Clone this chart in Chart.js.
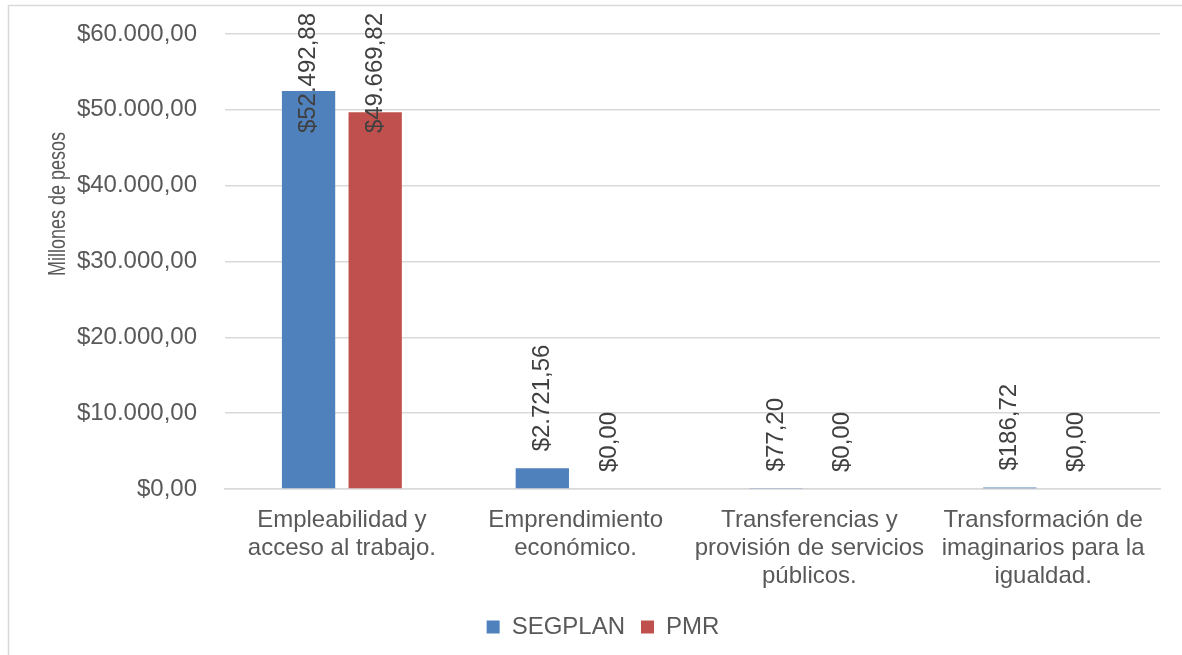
<!DOCTYPE html>
<html>
<head>
<meta charset="utf-8">
<script src="https://cdn.jsdelivr.net/npm/chart.js@4"></script>
<style>
  html, body { margin: 0; padding: 0; background: #fff; }
  #wrap { width: 1182px; height: 655px; position: relative; }
</style>
</head>
<body>
<div id="wrap"><canvas id="barChart"></canvas></div>
<script>
// Data
const categories = [
    ['Empleabilidad y', 'acceso al trabajo.'],
    ['Emprendimiento', 'económico.'],
    ['Transferencias y', 'provisión de servicios', 'públicos.'],
    ['Transformación de', 'imaginarios para la', 'igualdad.']
];
const segplan = [52492.88, 2721.56, 77.20, 186.72];
const pmr = [49669.82, 0, 0, 0];
const yTicks = [0, 10000, 20000, 30000, 40000, 50000, 60000];

const FONT = '"Liberation Sans", Arial, sans-serif';
const GREY = '#595959';

// formato $12.345,67
function money(v) {
    const parts = v.toFixed(2).split('.');
    parts[0] = parts[0].replace(/\B(?=(\d{3})+(?!\d))/g, '.');
    return '$' + parts[0] + ',' + parts[1];
}

// labels + border + y title
const extras = {
    id: 'extras',
    beforeDraw(chart) {
        const ctx = chart.ctx;
        ctx.save();
        ctx.strokeStyle = '#d9d9d9';
        ctx.lineWidth = 1.5;
        ctx.strokeRect(8.5, 5.5, 1300, 800);
        ctx.restore();
    },
    afterDatasetsDraw(chart) {
        const ctx = chart.ctx;
        ctx.save();
        ctx.font = '24px ' + FONT;
        ctx.fillStyle = '#404040';
        ctx.textAlign = 'left';
        ctx.textBaseline = 'middle';
        chart.data.datasets.forEach((ds, i) => {
            chart.getDatasetMeta(i).data.forEach((bar, j) => {
                const txt = money(ds.data[j]);
                const w = ctx.measureText(txt).width;
                // outside end, pushed down when it would leave the chart
                const start = Math.max(bar.y - 17, 13 + w);
                ctx.save();
                ctx.translate(bar.x, start);
                ctx.rotate(-Math.PI / 2);
                ctx.fillText(txt, 0, 0);
                ctx.restore();
            });
        });
        // y title
        ctx.font = '18px ' + FONT;
        ctx.fillStyle = GREY;
        ctx.textAlign = 'center';
        ctx.translate(59, 204);
        ctx.rotate(-Math.PI / 2);
        ctx.scale(1, 1.3);
        ctx.fillText('Millones de pesos', 0, 0);
        ctx.restore();
    }
};

const ctxBar = document.getElementById('barChart').getContext('2d');
const barChart = new Chart(ctxBar, {
    type: 'bar',
    data: {
        labels: categories,
        datasets: [{
            label: 'SEGPLAN',
            data: segplan,
            backgroundColor: '#4f81bd',
            categoryPercentage: 0.57,
            barPercentage: 0.8
        }, {
            label: 'PMR',
            data: pmr,
            backgroundColor: '#c0504d',
            categoryPercentage: 0.57,
            barPercentage: 0.8
        }]
    },
    options: {
        responsive: true,
        maintainAspectRatio: false,
        animation: false,
        layout: { padding: { left: 46, right: 22, top: 34, bottom: 6 } },
        plugins: {
            legend: {
                position: 'bottom',
                labels: {
                    font: { family: FONT, size: 24 },
                    color: GREY,
                    boxWidth: 13,
                    boxHeight: 13,
                    padding: 16
                }
            },
            tooltip: { enabled: false }
        },
        scales: {
            x: {
                grid: { display: false },
                border: { color: '#d9d9d9', width: 1.5 },
                ticks: {
                    font: { family: FONT, size: 24, lineHeight: 1.17 },
                    color: GREY,
                    padding: 9,
                    maxRotation: 0,
                    autoSkip: false
                },
                afterFit(scale) { scale.height = 110; }
            },
            y: {
                min: 0,
                max: 60000,
                afterBuildTicks(scale) { scale.ticks = yTicks.map(v => ({ value: v })); },
                grid: { color: '#d9d9d9', lineWidth: 1.5, drawTicks: false },
                border: { display: false },
                ticks: {
                    font: { family: FONT, size: 24 },
                    color: GREY,
                    padding: 28,
                    callback: v => money(v)
                },
                afterFit(scale) {
                    scale.width = 179;
                    scale.paddingTop = 0;
                    scale.paddingBottom = 0;
                }
            }
        }
    },
    plugins: [extras]
});
</script>
</body>
</html>
